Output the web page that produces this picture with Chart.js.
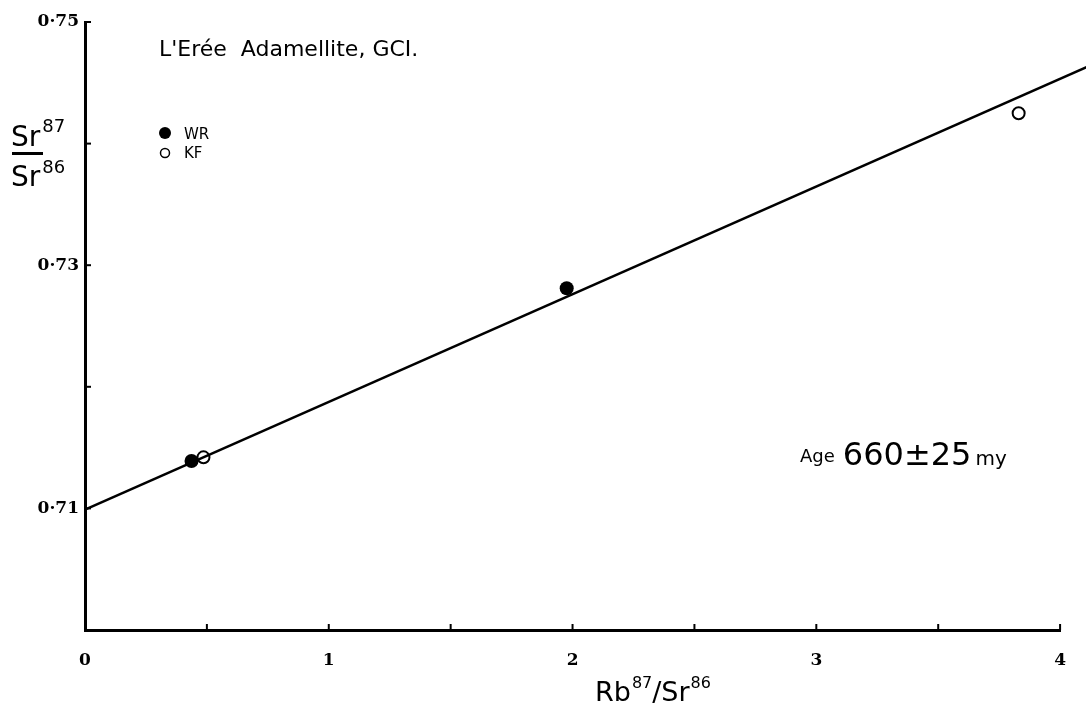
<!DOCTYPE html>
<html>
<head>
<meta charset="utf-8">
<script src="https://cdn.jsdelivr.net/npm/chart.js@4.4.0/dist/chart.umd.min.js"></script>
<style>
  html, body { margin: 0; padding: 0; background: #fff; }
  #isochronChartContainer { width: 1086px; height: 713px; }
</style>
</head>
<body>
<div id="isochronChartContainer">
  <canvas id="isochronChart" width="1086" height="713"></canvas>
</div>
<script>
// whole rock (filled) and K-feldspar (open) points
const wrX = [0.437, 1.976];
const wrY = [0.7139, 0.7281];
const kfX = [0.486, 3.83];
const kfY = [0.7142, 0.7425];
// isochron line, runs past the x axis end
const lineX = [0, 4.11];
const lineY = [0.7099, 0.7463];

const xTicks = [0, 0.5, 1, 1.5, 2, 2.5, 3, 3.5, 4];
const xTickLabels = ["0", "", "1", "", "2", "", "3", "", "4"];
const yTicks = [0.70, 0.71, 0.72, 0.73, 0.74, 0.75];
const yTickLabels = ["", "0·71", "", "0·73", "", "0·75"];

const toPoints = (xs, ys) => xs.map((x, i) => ({ x: x, y: ys[i] }));

// inward tick marks, axis titles and the notes on the plot
const annotations = {
  id: "annotations",
  afterDraw(chart) {
    const ctx = chart.ctx;
    const xs = chart.scales.x;
    const ys = chart.scales.y;
    ctx.save();
    ctx.strokeStyle = "#000";
    ctx.fillStyle = "#000";
    ctx.lineWidth = 2;
    xTicks.forEach((v) => {
      if (v === 0) return;
      const px = xs.getPixelForValue(v);
      ctx.beginPath();
      ctx.moveTo(px, ys.bottom);
      ctx.lineTo(px, ys.bottom - 6);
      ctx.stroke();
    });
    yTicks.forEach((v) => {
      if (v === 0.70) return;
      const py = ys.getPixelForValue(v);
      ctx.beginPath();
      ctx.moveTo(xs.left, py);
      ctx.lineTo(xs.left + 6, py);
      ctx.stroke();
    });

    ctx.textBaseline = "alphabetic";
    ctx.textAlign = "left";

    // y title as a fraction
    ctx.font = "28px 'DejaVu Sans'";
    const srW = ctx.measureText("Sr").width;
    ctx.fillText("Sr", 11, 146);
    ctx.fillText("Sr", 11, 186);
    ctx.font = "18px 'DejaVu Sans'";
    ctx.fillText("87", 13 + srW, 132);
    ctx.fillText("86", 13 + srW, 173);
    ctx.fillRect(12, 152, 31, 3);

    // x title
    let x = 595;
    ctx.font = "27px 'DejaVu Sans'";
    ctx.fillText("Rb", x, 701);
    x += ctx.measureText("Rb").width + 1;
    ctx.font = "16px 'DejaVu Sans'";
    ctx.fillText("87", x, 688);
    x += ctx.measureText("87").width;
    ctx.font = "27px 'DejaVu Sans'";
    ctx.fillText("/Sr", x, 701);
    x += ctx.measureText("/Sr").width + 1;
    ctx.font = "16px 'DejaVu Sans'";
    ctx.fillText("86", x, 688);

    // title
    ctx.font = "22px 'DejaVu Sans'";
    ctx.fillText("L'Erée  Adamellite, GCI.", 159, 56);

    // legend
    const wr = chart.data.datasets[1];
    const kf = chart.data.datasets[2];
    ctx.beginPath();
    ctx.arc(165, 133, 6, 0, Math.PI * 2);
    ctx.fillStyle = wr.pointBackgroundColor;
    ctx.fill();
    ctx.beginPath();
    ctx.arc(165, 153, 4.5, 0, Math.PI * 2);
    ctx.lineWidth = 1.5;
    ctx.strokeStyle = kf.pointBorderColor;
    ctx.stroke();
    ctx.fillStyle = "#000";
    ctx.font = "15px 'DejaVu Sans'";
    ctx.textBaseline = "middle";
    ctx.fillText(wr.label, 184, 135);
    ctx.fillText(kf.label, 184, 154);

    // age
    ctx.textBaseline = "alphabetic";
    x = 800;
    ctx.font = "18px 'DejaVu Sans'";
    ctx.fillText("Age", x, 462);
    x += ctx.measureText("Age").width + 8;
    ctx.font = "32px 'DejaVu Sans'";
    ctx.fillText("660±25", x, 465);
    x += ctx.measureText("660±25").width + 4;
    ctx.font = "20px 'DejaVu Sans'";
    ctx.fillText("my", x, 465);
    ctx.restore();
  },
};

const ctx = document.getElementById("isochronChart").getContext("2d");
new Chart(ctx, {
  type: "scatter",
  data: {
    datasets: [
      {
        label: "isochron",
        data: toPoints(lineX, lineY),
        showLine: true,
        borderColor: "#000",
        borderWidth: 2.5,
        pointRadius: 0,
        clip: false,
      },
      {
        label: "WR",
        data: toPoints(wrX, wrY),
        pointRadius: 7,
        pointBackgroundColor: "#000",
        pointBorderColor: "#000",
        pointBorderWidth: 0,
      },
      {
        label: "KF",
        data: toPoints(kfX, kfY),
        pointRadius: 6,
        pointBackgroundColor: "rgba(255,255,255,0)",
        pointBorderColor: "#000",
        pointBorderWidth: 2,
      },
    ],
  },
  options: {
    responsive: false,
    animation: false,
    devicePixelRatio: 1,
    layout: { padding: { top: 22, right: 20, left: 0, bottom: 0 } },
    plugins: { legend: { display: false }, tooltip: { enabled: false } },
    scales: {
      x: {
        type: "linear",
        min: 0,
        max: 4,
        afterBuildTicks: (s) => { s.ticks = xTicks.map((v) => ({ value: v })); },
        afterFit: (s) => { s.height = 83; },
        grid: { display: false, drawTicks: false },
        border: { display: true, color: "#000", width: 3 },
        ticks: {
          color: "#000",
          padding: 20,
          maxRotation: 0,
          autoSkip: false,
          font: { family: "'DejaVu Serif'", weight: "bold", size: 17 },
          callback: (v, i) => xTickLabels[i],
        },
      },
      y: {
        min: 0.70,
        max: 0.75,
        afterBuildTicks: (s) => { s.ticks = yTicks.map((v) => ({ value: v })); },
        afterFit: (s) => { s.width = 85; },
        grid: { display: false, drawTicks: false },
        border: { display: true, color: "#000", width: 3 },
        ticks: {
          color: "#000",
          padding: 6,
          autoSkip: false,
          font: { family: "'DejaVu Serif'", weight: "bold", size: 17 },
          callback: (v, i) => yTickLabels[i],
        },
      },
    },
  },
  plugins: [annotations],
});
</script>
</body>
</html>
